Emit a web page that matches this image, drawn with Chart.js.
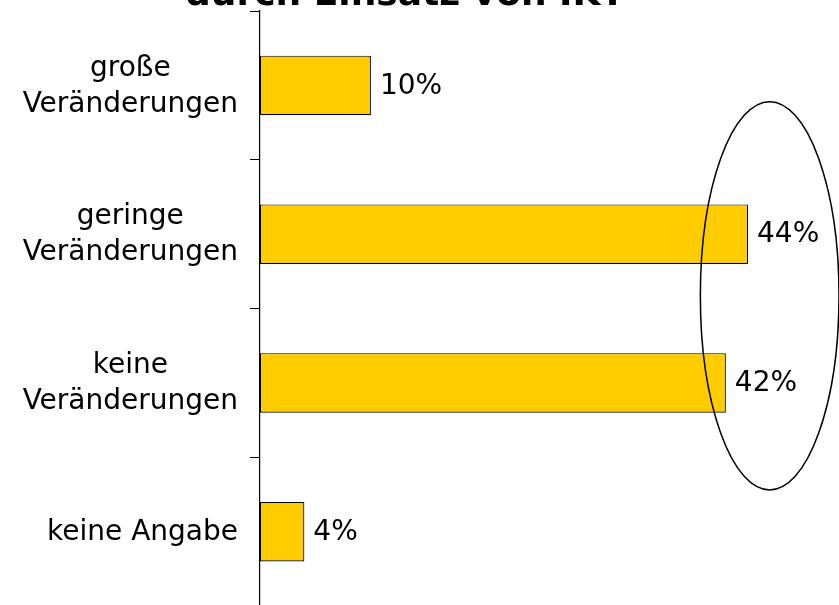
<!DOCTYPE html>
<html>
<head>
<meta charset="utf-8">
<script src="https://cdn.jsdelivr.net/npm/chart.js@4"></script>
<style>
	html, body { margin: 0; padding: 0; background: #fff; overflow: hidden; }
	#wrap { width: 839px; height: 622px; position: relative; }
</style>
</head>
<body>
<div id="wrap"><canvas id="chartContainer1"></canvas></div>
<script>
"use strict";

// 1: data
const categories = [
	["große", "Veränderungen"],
	["geringe", "Veränderungen"],
	["keine", "Veränderungen"],
	["keine Angabe"]
];
const shares = [10, 44, 42, 4];
const valueLabels = ["10%", "44%", "42%", "4%"];
const titleText = "durch Einsatz von IKT";

const FONT = "'DejaVu Sans', Verdana, sans-serif";

// title sits partly above the picture edge
const topTitle = {
	id: "topTitle",
	afterDraw(chart) {
		const ctx = chart.ctx;
		ctx.save();
		ctx.font = "bold 36px " + FONT;
		ctx.fillStyle = "#000";
		ctx.textAlign = "center";
		ctx.textBaseline = "alphabetic";
		ctx.fillText(titleText, 405, 5);
		ctx.restore();
	}
};

// category labels: block right aligned, lines centred inside the block
const catLabels = {
	id: "catLabels",
	afterDraw(chart) {
		const y = chart.scales.y;
		const ctx = chart.ctx;
		const right = y.right - 22;
		const lh = 36;
		ctx.save();
		ctx.font = "28px " + FONT;
		ctx.fillStyle = "#000";
		ctx.textAlign = "center";
		ctx.textBaseline = "middle";
		categories.forEach((lines, i) => {
			const w = Math.max(...lines.map(s => ctx.measureText(s).width));
			const cx = right - w / 2;
			const cy = y.getPixelForValue(i) + 1;
			lines.forEach((s, k) => {
				ctx.fillText(s, cx, cy + (k - (lines.length - 1) / 2) * lh);
			});
		});
		ctx.restore();
	}
};

// value labels right of each bar
const barLabels = {
	id: "barLabels",
	afterDatasetsDraw(chart) {
		const ctx = chart.ctx;
		const meta = chart.getDatasetMeta(0);
		ctx.save();
		ctx.font = "28px " + FONT;
		ctx.fillStyle = "#000";
		ctx.textAlign = "left";
		ctx.textBaseline = "middle";
		meta.data.forEach((bar, i) => {
			ctx.fillText(valueLabels[i], bar.x + 9, bar.y + 1);
		});
		ctx.restore();
	}
};

// ellipse round the two big bars
const ring = {
	id: "ring",
	afterDraw(chart) {
		const x = chart.scales.x, y = chart.scales.y;
		const x0 = x.getPixelForValue(39.7), x1 = x.getPixelForValue(52.2);
		const y0 = y.getPixelForValue(0.11), y1 = y.getPixelForValue(2.72);
		const ctx = chart.ctx;
		ctx.save();
		ctx.beginPath();
		ctx.ellipse((x0 + x1) / 2, (y0 + y1) / 2, (x1 - x0) / 2, (y1 - y0) / 2, 0, 0, Math.PI * 2);
		ctx.lineWidth = 1.5;
		ctx.strokeStyle = "#000";
		ctx.stroke();
		ctx.restore();
	}
};

new Chart(document.querySelector("#chartContainer1"), {
	type: "bar",
	data: {
		labels: categories,
		datasets: [{
			data: shares,
			backgroundColor: "#FFCC00",
			borderColor: "#000",
			borderWidth: 1.2,
			borderSkipped: false,
			categoryPercentage: 1,
			barPercentage: 0.4
		}]
	},
	options: {
		indexAxis: "y",
		responsive: true,
		maintainAspectRatio: false,
		animation: false,
		layout: { padding: { top: 11, bottom: 16, left: 0, right: 0 } },
		plugins: {
			legend: { display: false },
			title: { display: false },
			tooltip: { enabled: false }
		},
		scales: {
			x: {
				display: false,
				min: 0,
				max: 52.2
			},
			y: {
				afterFit(scale) {
					scale.width = 260;
					scale.paddingTop = 0;
					scale.paddingBottom = 0;
				},
				border: { display: true, color: "#000", width: 1.2 },
				grid: {
					offset: true,
					drawOnChartArea: false,
					drawTicks: true,
					tickLength: 10,
					color: "#000"
				},
				ticks: { display: false }
			}
		}
	},
	plugins: [topTitle, catLabels, barLabels, ring]
});
</script>
</body>
</html>
